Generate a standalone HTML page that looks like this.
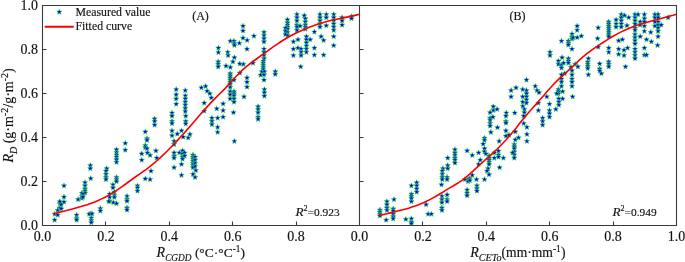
<!DOCTYPE html><html><head><meta charset="utf-8"><style>html,body{margin:0;padding:0;background:#fff;width:685px;height:262px;overflow:hidden}svg{display:block;will-change:transform}</style></head><body>
<svg width="685" height="262" viewBox="0 0 685 262">
<defs><path id="s" d="M0.00,-2.80 L0.73,-1.01 L2.66,-0.87 L1.19,0.39 L1.65,2.27 L0.00,1.25 L-1.65,2.27 L-1.19,0.39 L-2.66,-0.87 L-0.73,-1.01 Z" fill="#0000ff" stroke="#2ee62e" stroke-width="0.55" stroke-linejoin="miter"/></defs>
<use href="#s" x="243.0" y="26.0"/>
<use href="#s" x="243.0" y="30.8"/>
<use href="#s" x="243.0" y="38.0"/>
<use href="#s" x="247.2" y="40.3"/>
<use href="#s" x="253.9" y="36.1"/>
<use href="#s" x="230.4" y="41.1"/>
<use href="#s" x="234.0" y="41.1"/>
<use href="#s" x="234.4" y="43.4"/>
<use href="#s" x="234.4" y="45.3"/>
<use href="#s" x="239.4" y="43.2"/>
<use href="#s" x="247.0" y="49.1"/>
<use href="#s" x="218.4" y="48.0"/>
<use href="#s" x="218.4" y="52.4"/>
<use href="#s" x="227.7" y="52.2"/>
<use href="#s" x="228.1" y="55.4"/>
<use href="#s" x="234.4" y="57.5"/>
<use href="#s" x="264.0" y="32.3"/>
<use href="#s" x="264.0" y="35.4"/>
<use href="#s" x="264.0" y="38.6"/>
<use href="#s" x="264.0" y="41.7"/>
<use href="#s" x="264.0" y="49.1"/>
<use href="#s" x="264.0" y="52.2"/>
<use href="#s" x="264.0" y="55.4"/>
<use href="#s" x="264.0" y="58.5"/>
<use href="#s" x="287.5" y="19.7"/>
<use href="#s" x="287.5" y="22.8"/>
<use href="#s" x="287.5" y="24.9"/>
<use href="#s" x="287.5" y="27.0"/>
<use href="#s" x="287.5" y="29.1"/>
<use href="#s" x="287.5" y="32.3"/>
<use href="#s" x="287.5" y="35.4"/>
<use href="#s" x="285.4" y="28.1"/>
<use href="#s" x="285.4" y="31.2"/>
<use href="#s" x="285.4" y="34.4"/>
<use href="#s" x="296.9" y="14.4"/>
<use href="#s" x="296.9" y="17.6"/>
<use href="#s" x="296.9" y="20.7"/>
<use href="#s" x="296.9" y="24.9"/>
<use href="#s" x="296.9" y="27.0"/>
<use href="#s" x="296.9" y="30.2"/>
<use href="#s" x="300.1" y="26.0"/>
<use href="#s" x="304.3" y="15.5"/>
<use href="#s" x="305.3" y="18.6"/>
<use href="#s" x="305.3" y="21.8"/>
<use href="#s" x="305.3" y="24.9"/>
<use href="#s" x="305.3" y="27.0"/>
<use href="#s" x="305.3" y="29.1"/>
<use href="#s" x="306.4" y="36.5"/>
<use href="#s" x="306.4" y="39.6"/>
<use href="#s" x="306.4" y="42.8"/>
<use href="#s" x="306.4" y="45.9"/>
<use href="#s" x="306.4" y="49.1"/>
<use href="#s" x="306.4" y="52.2"/>
<use href="#s" x="310.2" y="39.6"/>
<use href="#s" x="293.4" y="41.7"/>
<use href="#s" x="293.4" y="49.1"/>
<use href="#s" x="293.4" y="55.4"/>
<use href="#s" x="298.0" y="39.6"/>
<use href="#s" x="298.0" y="48.0"/>
<use href="#s" x="301.1" y="49.1"/>
<use href="#s" x="301.1" y="52.2"/>
<use href="#s" x="301.1" y="55.4"/>
<use href="#s" x="314.4" y="31.9"/>
<use href="#s" x="314.4" y="48.0"/>
<use href="#s" x="314.4" y="55.0"/>
<use href="#s" x="320.0" y="14.4"/>
<use href="#s" x="320.0" y="17.6"/>
<use href="#s" x="320.0" y="20.7"/>
<use href="#s" x="320.0" y="23.9"/>
<use href="#s" x="320.0" y="27.0"/>
<use href="#s" x="321.1" y="36.5"/>
<use href="#s" x="323.6" y="40.3"/>
<use href="#s" x="323.6" y="55.0"/>
<use href="#s" x="326.3" y="14.4"/>
<use href="#s" x="326.3" y="17.6"/>
<use href="#s" x="326.3" y="25.6"/>
<use href="#s" x="333.7" y="14.4"/>
<use href="#s" x="333.7" y="17.6"/>
<use href="#s" x="333.7" y="20.7"/>
<use href="#s" x="333.7" y="23.9"/>
<use href="#s" x="333.7" y="27.0"/>
<use href="#s" x="333.7" y="30.2"/>
<use href="#s" x="333.7" y="36.5"/>
<use href="#s" x="333.7" y="45.5"/>
<use href="#s" x="342.1" y="17.6"/>
<use href="#s" x="342.1" y="20.7"/>
<use href="#s" x="342.1" y="24.9"/>
<use href="#s" x="351.5" y="16.5"/>
<use href="#s" x="351.5" y="18.6"/>
<use href="#s" x="218.2" y="61.7"/>
<use href="#s" x="218.2" y="64.2"/>
<use href="#s" x="218.2" y="66.7"/>
<use href="#s" x="226.0" y="65.9"/>
<use href="#s" x="230.4" y="67.3"/>
<use href="#s" x="232.9" y="61.7"/>
<use href="#s" x="239.8" y="63.8"/>
<use href="#s" x="243.4" y="64.2"/>
<use href="#s" x="252.9" y="63.1"/>
<use href="#s" x="230.2" y="73.6"/>
<use href="#s" x="230.2" y="75.7"/>
<use href="#s" x="230.2" y="77.8"/>
<use href="#s" x="230.2" y="79.9"/>
<use href="#s" x="230.2" y="82.0"/>
<use href="#s" x="230.2" y="84.1"/>
<use href="#s" x="230.2" y="87.3"/>
<use href="#s" x="230.2" y="91.5"/>
<use href="#s" x="230.2" y="94.6"/>
<use href="#s" x="230.2" y="98.8"/>
<use href="#s" x="234.0" y="79.9"/>
<use href="#s" x="234.0" y="91.5"/>
<use href="#s" x="234.0" y="93.6"/>
<use href="#s" x="234.0" y="95.7"/>
<use href="#s" x="234.0" y="98.8"/>
<use href="#s" x="234.0" y="102.0"/>
<use href="#s" x="239.8" y="73.0"/>
<use href="#s" x="247.0" y="77.8"/>
<use href="#s" x="247.0" y="82.0"/>
<use href="#s" x="247.0" y="86.9"/>
<use href="#s" x="244.0" y="96.7"/>
<use href="#s" x="176.2" y="89.4"/>
<use href="#s" x="176.2" y="94.6"/>
<use href="#s" x="176.2" y="98.8"/>
<use href="#s" x="176.2" y="104.1"/>
<use href="#s" x="185.3" y="90.4"/>
<use href="#s" x="185.3" y="95.7"/>
<use href="#s" x="185.3" y="98.8"/>
<use href="#s" x="185.3" y="102.0"/>
<use href="#s" x="185.3" y="105.1"/>
<use href="#s" x="185.3" y="108.3"/>
<use href="#s" x="185.3" y="111.4"/>
<use href="#s" x="201.4" y="87.7"/>
<use href="#s" x="205.6" y="86.2"/>
<use href="#s" x="207.1" y="91.1"/>
<use href="#s" x="209.8" y="93.6"/>
<use href="#s" x="211.3" y="97.8"/>
<use href="#s" x="204.2" y="103.0"/>
<use href="#s" x="204.2" y="111.0"/>
<use href="#s" x="172.0" y="112.9"/>
<use href="#s" x="216.8" y="108.7"/>
<use href="#s" x="223.1" y="103.7"/>
<use href="#s" x="223.1" y="110.4"/>
<use href="#s" x="233.5" y="112.5"/>
<use href="#s" x="263.3" y="61.0"/>
<use href="#s" x="263.3" y="63.1"/>
<use href="#s" x="263.3" y="65.2"/>
<use href="#s" x="263.3" y="67.3"/>
<use href="#s" x="263.3" y="69.4"/>
<use href="#s" x="261.9" y="71.5"/>
<use href="#s" x="264.4" y="71.5"/>
<use href="#s" x="260.6" y="75.1"/>
<use href="#s" x="264.0" y="74.7"/>
<use href="#s" x="264.0" y="79.9"/>
<use href="#s" x="264.4" y="89.4"/>
<use href="#s" x="264.4" y="92.5"/>
<use href="#s" x="264.4" y="96.1"/>
<use href="#s" x="258.1" y="106.6"/>
<use href="#s" x="258.1" y="109.3"/>
<use href="#s" x="258.1" y="112.5"/>
<use href="#s" x="275.3" y="71.5"/>
<use href="#s" x="275.3" y="74.3"/>
<use href="#s" x="300.7" y="66.7"/>
<use href="#s" x="145.3" y="131.8"/>
<use href="#s" x="147.0" y="138.5"/>
<use href="#s" x="147.0" y="140.2"/>
<use href="#s" x="145.3" y="145.4"/>
<use href="#s" x="145.3" y="147.5"/>
<use href="#s" x="147.0" y="148.6"/>
<use href="#s" x="147.4" y="152.8"/>
<use href="#s" x="150.1" y="155.3"/>
<use href="#s" x="141.7" y="153.8"/>
<use href="#s" x="141.7" y="160.1"/>
<use href="#s" x="125.3" y="143.3"/>
<use href="#s" x="125.3" y="150.1"/>
<use href="#s" x="116.5" y="149.6"/>
<use href="#s" x="116.5" y="152.4"/>
<use href="#s" x="116.5" y="154.9"/>
<use href="#s" x="116.5" y="157.0"/>
<use href="#s" x="116.5" y="159.5"/>
<use href="#s" x="116.5" y="162.2"/>
<use href="#s" x="90.3" y="165.4"/>
<use href="#s" x="90.3" y="168.5"/>
<use href="#s" x="106.7" y="168.5"/>
<use href="#s" x="154.6" y="118.8"/>
<use href="#s" x="154.6" y="121.3"/>
<use href="#s" x="154.6" y="125.1"/>
<use href="#s" x="172.0" y="116.0"/>
<use href="#s" x="172.0" y="121.3"/>
<use href="#s" x="172.0" y="123.4"/>
<use href="#s" x="185.7" y="116.0"/>
<use href="#s" x="185.7" y="121.3"/>
<use href="#s" x="185.7" y="123.8"/>
<use href="#s" x="172.0" y="130.7"/>
<use href="#s" x="172.0" y="135.6"/>
<use href="#s" x="177.3" y="133.9"/>
<use href="#s" x="181.5" y="130.7"/>
<use href="#s" x="183.2" y="137.0"/>
<use href="#s" x="188.2" y="137.7"/>
<use href="#s" x="189.9" y="134.3"/>
<use href="#s" x="174.1" y="141.2"/>
<use href="#s" x="174.1" y="144.4"/>
<use href="#s" x="155.9" y="150.7"/>
<use href="#s" x="156.7" y="158.0"/>
<use href="#s" x="174.1" y="152.8"/>
<use href="#s" x="174.1" y="155.9"/>
<use href="#s" x="174.1" y="158.0"/>
<use href="#s" x="179.4" y="152.8"/>
<use href="#s" x="182.5" y="150.7"/>
<use href="#s" x="182.5" y="153.8"/>
<use href="#s" x="182.5" y="157.0"/>
<use href="#s" x="182.5" y="159.1"/>
<use href="#s" x="184.6" y="152.8"/>
<use href="#s" x="184.6" y="155.9"/>
<use href="#s" x="181.5" y="164.3"/>
<use href="#s" x="193.0" y="154.9"/>
<use href="#s" x="193.0" y="157.0"/>
<use href="#s" x="193.0" y="159.1"/>
<use href="#s" x="193.0" y="161.2"/>
<use href="#s" x="193.0" y="163.3"/>
<use href="#s" x="193.0" y="165.4"/>
<use href="#s" x="193.0" y="167.5"/>
<use href="#s" x="195.1" y="157.0"/>
<use href="#s" x="195.1" y="160.1"/>
<use href="#s" x="195.1" y="163.3"/>
<use href="#s" x="195.1" y="166.4"/>
<use href="#s" x="174.1" y="167.5"/>
<use href="#s" x="211.9" y="118.1"/>
<use href="#s" x="211.9" y="121.3"/>
<use href="#s" x="211.9" y="124.4"/>
<use href="#s" x="217.6" y="118.1"/>
<use href="#s" x="223.1" y="117.1"/>
<use href="#s" x="217.6" y="127.2"/>
<use href="#s" x="217.6" y="132.2"/>
<use href="#s" x="234.4" y="141.2"/>
<use href="#s" x="258.1" y="117.1"/>
<use href="#s" x="258.1" y="119.2"/>
<use href="#s" x="54.6" y="214.1"/>
<use href="#s" x="54.6" y="220.0"/>
<use href="#s" x="57.7" y="210.3"/>
<use href="#s" x="57.7" y="215.1"/>
<use href="#s" x="59.8" y="207.8"/>
<use href="#s" x="59.8" y="203.6"/>
<use href="#s" x="59.8" y="201.5"/>
<use href="#s" x="61.3" y="204.6"/>
<use href="#s" x="61.3" y="208.8"/>
<use href="#s" x="64.0" y="185.7"/>
<use href="#s" x="64.0" y="196.9"/>
<use href="#s" x="64.0" y="201.9"/>
<use href="#s" x="76.6" y="215.1"/>
<use href="#s" x="76.6" y="218.3"/>
<use href="#s" x="76.6" y="220.0"/>
<use href="#s" x="78.1" y="199.4"/>
<use href="#s" x="81.9" y="193.1"/>
<use href="#s" x="81.9" y="196.2"/>
<use href="#s" x="81.9" y="198.3"/>
<use href="#s" x="85.0" y="182.6"/>
<use href="#s" x="85.0" y="185.7"/>
<use href="#s" x="85.0" y="188.9"/>
<use href="#s" x="85.0" y="191.0"/>
<use href="#s" x="85.0" y="193.1"/>
<use href="#s" x="82.9" y="194.1"/>
<use href="#s" x="82.9" y="196.9"/>
<use href="#s" x="90.7" y="178.4"/>
<use href="#s" x="90.7" y="213.7"/>
<use href="#s" x="89.2" y="214.1"/>
<use href="#s" x="92.0" y="213.7"/>
<use href="#s" x="91.3" y="217.9"/>
<use href="#s" x="91.3" y="220.4"/>
<use href="#s" x="91.3" y="222.5"/>
<use href="#s" x="100.4" y="208.4"/>
<use href="#s" x="100.4" y="210.9"/>
<use href="#s" x="106.0" y="171.0"/>
<use href="#s" x="106.0" y="174.2"/>
<use href="#s" x="106.0" y="177.3"/>
<use href="#s" x="106.0" y="179.4"/>
<use href="#s" x="113.0" y="184.7"/>
<use href="#s" x="113.0" y="187.8"/>
<use href="#s" x="116.5" y="177.3"/>
<use href="#s" x="116.5" y="179.4"/>
<use href="#s" x="116.5" y="181.5"/>
<use href="#s" x="109.6" y="194.1"/>
<use href="#s" x="109.6" y="197.3"/>
<use href="#s" x="109.6" y="201.1"/>
<use href="#s" x="114.4" y="192.0"/>
<use href="#s" x="114.4" y="195.2"/>
<use href="#s" x="114.4" y="197.3"/>
<use href="#s" x="113.4" y="202.5"/>
<use href="#s" x="116.5" y="203.6"/>
<use href="#s" x="108.8" y="201.5"/>
<use href="#s" x="127.0" y="196.2"/>
<use href="#s" x="127.0" y="199.4"/>
<use href="#s" x="127.0" y="201.1"/>
<use href="#s" x="127.0" y="207.8"/>
<use href="#s" x="127.0" y="209.9"/>
<use href="#s" x="137.5" y="185.7"/>
<use href="#s" x="137.5" y="187.8"/>
<use href="#s" x="137.5" y="191.0"/>
<use href="#s" x="145.3" y="178.8"/>
<use href="#s" x="150.1" y="179.4"/>
<use href="#s" x="151.0" y="171.0"/>
<use href="#s" x="181.5" y="175.2"/>
<use href="#s" x="193.0" y="174.2"/>
<use href="#s" x="195.1" y="177.3"/>
<use href="#s" x="195.8" y="170.4"/>
<use href="#s" x="572.0" y="34.0"/>
<use href="#s" x="572.0" y="36.9"/>
<use href="#s" x="572.0" y="39.0"/>
<use href="#s" x="573.1" y="37.5"/>
<use href="#s" x="568.4" y="41.1"/>
<use href="#s" x="568.4" y="43.2"/>
<use href="#s" x="568.4" y="44.9"/>
<use href="#s" x="561.5" y="41.1"/>
<use href="#s" x="572.0" y="49.1"/>
<use href="#s" x="550.0" y="52.2"/>
<use href="#s" x="550.0" y="55.4"/>
<use href="#s" x="562.1" y="57.5"/>
<use href="#s" x="568.4" y="58.5"/>
<use href="#s" x="577.2" y="26.0"/>
<use href="#s" x="577.2" y="30.2"/>
<use href="#s" x="577.2" y="37.5"/>
<use href="#s" x="581.4" y="36.1"/>
<use href="#s" x="598.2" y="27.7"/>
<use href="#s" x="597.6" y="38.6"/>
<use href="#s" x="598.2" y="47.0"/>
<use href="#s" x="588.4" y="58.5"/>
<use href="#s" x="608.7" y="21.8"/>
<use href="#s" x="608.7" y="23.9"/>
<use href="#s" x="608.7" y="26.0"/>
<use href="#s" x="608.7" y="28.1"/>
<use href="#s" x="608.7" y="30.2"/>
<use href="#s" x="608.7" y="32.3"/>
<use href="#s" x="608.7" y="34.4"/>
<use href="#s" x="608.7" y="36.5"/>
<use href="#s" x="608.7" y="48.0"/>
<use href="#s" x="608.7" y="52.2"/>
<use href="#s" x="616.1" y="19.7"/>
<use href="#s" x="616.1" y="23.9"/>
<use href="#s" x="616.1" y="27.0"/>
<use href="#s" x="621.3" y="14.4"/>
<use href="#s" x="621.3" y="17.6"/>
<use href="#s" x="621.3" y="20.7"/>
<use href="#s" x="621.3" y="23.9"/>
<use href="#s" x="621.3" y="27.0"/>
<use href="#s" x="624.5" y="15.5"/>
<use href="#s" x="628.7" y="17.6"/>
<use href="#s" x="627.0" y="25.6"/>
<use href="#s" x="618.6" y="40.7"/>
<use href="#s" x="622.4" y="39.6"/>
<use href="#s" x="618.6" y="49.1"/>
<use href="#s" x="618.6" y="54.3"/>
<use href="#s" x="624.1" y="50.1"/>
<use href="#s" x="624.1" y="55.4"/>
<use href="#s" x="627.6" y="48.0"/>
<use href="#s" x="635.0" y="14.4"/>
<use href="#s" x="635.0" y="17.6"/>
<use href="#s" x="635.0" y="20.7"/>
<use href="#s" x="635.0" y="23.9"/>
<use href="#s" x="635.0" y="28.1"/>
<use href="#s" x="635.0" y="30.2"/>
<use href="#s" x="635.0" y="34.4"/>
<use href="#s" x="635.0" y="37.5"/>
<use href="#s" x="635.0" y="40.7"/>
<use href="#s" x="635.0" y="43.8"/>
<use href="#s" x="635.0" y="49.1"/>
<use href="#s" x="635.0" y="52.2"/>
<use href="#s" x="635.0" y="55.4"/>
<use href="#s" x="638.1" y="14.4"/>
<use href="#s" x="640.2" y="21.8"/>
<use href="#s" x="640.2" y="24.9"/>
<use href="#s" x="640.2" y="36.5"/>
<use href="#s" x="644.4" y="14.4"/>
<use href="#s" x="644.4" y="18.6"/>
<use href="#s" x="644.4" y="21.8"/>
<use href="#s" x="644.4" y="26.0"/>
<use href="#s" x="644.4" y="31.2"/>
<use href="#s" x="646.5" y="39.6"/>
<use href="#s" x="644.4" y="48.0"/>
<use href="#s" x="644.4" y="55.0"/>
<use href="#s" x="646.5" y="55.0"/>
<use href="#s" x="650.7" y="32.3"/>
<use href="#s" x="651.4" y="41.7"/>
<use href="#s" x="654.9" y="14.4"/>
<use href="#s" x="654.9" y="17.6"/>
<use href="#s" x="654.9" y="21.8"/>
<use href="#s" x="654.9" y="26.0"/>
<use href="#s" x="658.1" y="14.4"/>
<use href="#s" x="658.1" y="17.6"/>
<use href="#s" x="658.1" y="21.8"/>
<use href="#s" x="658.1" y="24.9"/>
<use href="#s" x="658.1" y="28.1"/>
<use href="#s" x="661.2" y="24.9"/>
<use href="#s" x="658.1" y="31.2"/>
<use href="#s" x="658.1" y="36.5"/>
<use href="#s" x="657.6" y="45.3"/>
<use href="#s" x="668.1" y="17.6"/>
<use href="#s" x="635.0" y="58.5"/>
<use href="#s" x="558.4" y="61.0"/>
<use href="#s" x="558.4" y="64.2"/>
<use href="#s" x="561.5" y="65.2"/>
<use href="#s" x="561.5" y="68.0"/>
<use href="#s" x="563.6" y="63.1"/>
<use href="#s" x="568.4" y="61.0"/>
<use href="#s" x="568.4" y="63.1"/>
<use href="#s" x="571.0" y="67.3"/>
<use href="#s" x="575.2" y="64.2"/>
<use href="#s" x="561.5" y="74.7"/>
<use href="#s" x="561.5" y="78.9"/>
<use href="#s" x="561.5" y="82.0"/>
<use href="#s" x="561.5" y="86.2"/>
<use href="#s" x="564.7" y="73.6"/>
<use href="#s" x="572.0" y="70.5"/>
<use href="#s" x="572.0" y="74.7"/>
<use href="#s" x="572.0" y="78.9"/>
<use href="#s" x="572.0" y="82.0"/>
<use href="#s" x="572.0" y="86.2"/>
<use href="#s" x="572.6" y="96.7"/>
<use href="#s" x="558.4" y="89.4"/>
<use href="#s" x="558.4" y="91.5"/>
<use href="#s" x="558.4" y="93.6"/>
<use href="#s" x="562.6" y="91.5"/>
<use href="#s" x="562.6" y="98.8"/>
<use href="#s" x="556.7" y="93.6"/>
<use href="#s" x="558.8" y="98.8"/>
<use href="#s" x="558.8" y="102.0"/>
<use href="#s" x="558.8" y="105.1"/>
<use href="#s" x="555.8" y="109.3"/>
<use href="#s" x="546.8" y="96.7"/>
<use href="#s" x="549.5" y="104.1"/>
<use href="#s" x="549.5" y="110.4"/>
<use href="#s" x="549.5" y="113.5"/>
<use href="#s" x="538.4" y="103.0"/>
<use href="#s" x="538.4" y="110.4"/>
<use href="#s" x="535.3" y="86.2"/>
<use href="#s" x="537.0" y="90.4"/>
<use href="#s" x="539.1" y="92.5"/>
<use href="#s" x="526.5" y="79.9"/>
<use href="#s" x="522.7" y="89.4"/>
<use href="#s" x="522.7" y="96.7"/>
<use href="#s" x="522.7" y="102.0"/>
<use href="#s" x="522.7" y="106.2"/>
<use href="#s" x="526.5" y="90.4"/>
<use href="#s" x="526.5" y="93.6"/>
<use href="#s" x="526.5" y="96.7"/>
<use href="#s" x="526.5" y="99.9"/>
<use href="#s" x="526.5" y="103.0"/>
<use href="#s" x="524.4" y="109.3"/>
<use href="#s" x="524.4" y="112.5"/>
<use href="#s" x="511.1" y="90.4"/>
<use href="#s" x="511.1" y="96.7"/>
<use href="#s" x="516.0" y="87.7"/>
<use href="#s" x="493.3" y="106.6"/>
<use href="#s" x="493.3" y="110.4"/>
<use href="#s" x="497.1" y="109.3"/>
<use href="#s" x="490.1" y="112.5"/>
<use href="#s" x="506.3" y="112.9"/>
<use href="#s" x="514.7" y="112.9"/>
<use href="#s" x="577.9" y="66.7"/>
<use href="#s" x="587.7" y="62.1"/>
<use href="#s" x="587.7" y="64.2"/>
<use href="#s" x="587.7" y="66.3"/>
<use href="#s" x="587.7" y="68.4"/>
<use href="#s" x="588.4" y="74.7"/>
<use href="#s" x="599.7" y="63.8"/>
<use href="#s" x="599.7" y="68.8"/>
<use href="#s" x="599.7" y="70.9"/>
<use href="#s" x="601.4" y="73.6"/>
<use href="#s" x="608.7" y="61.7"/>
<use href="#s" x="608.7" y="64.2"/>
<use href="#s" x="608.7" y="66.7"/>
<use href="#s" x="625.5" y="66.7"/>
<use href="#s" x="454.9" y="149.6"/>
<use href="#s" x="454.9" y="152.8"/>
<use href="#s" x="454.9" y="155.3"/>
<use href="#s" x="454.9" y="158.0"/>
<use href="#s" x="454.9" y="160.1"/>
<use href="#s" x="454.9" y="162.9"/>
<use href="#s" x="467.1" y="150.7"/>
<use href="#s" x="447.7" y="158.0"/>
<use href="#s" x="447.7" y="165.4"/>
<use href="#s" x="447.7" y="168.5"/>
<use href="#s" x="442.9" y="168.5"/>
<use href="#s" x="490.1" y="118.1"/>
<use href="#s" x="490.1" y="120.2"/>
<use href="#s" x="490.1" y="123.4"/>
<use href="#s" x="490.1" y="125.9"/>
<use href="#s" x="492.9" y="117.1"/>
<use href="#s" x="490.8" y="132.2"/>
<use href="#s" x="497.5" y="127.6"/>
<use href="#s" x="505.9" y="116.0"/>
<use href="#s" x="505.9" y="121.3"/>
<use href="#s" x="505.9" y="123.0"/>
<use href="#s" x="505.9" y="130.7"/>
<use href="#s" x="505.9" y="136.0"/>
<use href="#s" x="509.0" y="134.9"/>
<use href="#s" x="515.3" y="131.8"/>
<use href="#s" x="515.3" y="139.8"/>
<use href="#s" x="518.5" y="137.7"/>
<use href="#s" x="523.7" y="116.0"/>
<use href="#s" x="523.7" y="123.4"/>
<use href="#s" x="526.9" y="127.2"/>
<use href="#s" x="526.9" y="134.3"/>
<use href="#s" x="526.9" y="141.2"/>
<use href="#s" x="542.6" y="118.1"/>
<use href="#s" x="542.6" y="121.3"/>
<use href="#s" x="542.6" y="125.1"/>
<use href="#s" x="549.5" y="117.1"/>
<use href="#s" x="484.5" y="138.1"/>
<use href="#s" x="484.5" y="140.2"/>
<use href="#s" x="483.2" y="144.0"/>
<use href="#s" x="484.5" y="148.6"/>
<use href="#s" x="484.5" y="151.7"/>
<use href="#s" x="472.3" y="155.3"/>
<use href="#s" x="478.6" y="152.8"/>
<use href="#s" x="480.3" y="160.1"/>
<use href="#s" x="478.6" y="164.3"/>
<use href="#s" x="485.9" y="153.8"/>
<use href="#s" x="489.1" y="155.9"/>
<use href="#s" x="489.1" y="158.0"/>
<use href="#s" x="489.1" y="160.1"/>
<use href="#s" x="489.1" y="162.2"/>
<use href="#s" x="489.1" y="164.3"/>
<use href="#s" x="488.0" y="168.5"/>
<use href="#s" x="494.3" y="152.8"/>
<use href="#s" x="494.3" y="158.0"/>
<use href="#s" x="499.2" y="141.2"/>
<use href="#s" x="498.5" y="151.1"/>
<use href="#s" x="498.5" y="154.9"/>
<use href="#s" x="498.5" y="157.0"/>
<use href="#s" x="503.4" y="158.0"/>
<use href="#s" x="499.6" y="167.5"/>
<use href="#s" x="514.3" y="144.4"/>
<use href="#s" x="514.3" y="146.5"/>
<use href="#s" x="514.3" y="148.6"/>
<use href="#s" x="514.3" y="151.7"/>
<use href="#s" x="514.3" y="154.9"/>
<use href="#s" x="514.3" y="158.0"/>
<use href="#s" x="512.6" y="152.8"/>
<use href="#s" x="379.9" y="209.9"/>
<use href="#s" x="379.9" y="212.0"/>
<use href="#s" x="379.9" y="214.1"/>
<use href="#s" x="379.9" y="215.8"/>
<use href="#s" x="386.9" y="201.5"/>
<use href="#s" x="386.9" y="204.6"/>
<use href="#s" x="386.9" y="207.8"/>
<use href="#s" x="386.9" y="210.3"/>
<use href="#s" x="386.2" y="220.0"/>
<use href="#s" x="393.2" y="208.8"/>
<use href="#s" x="393.2" y="210.9"/>
<use href="#s" x="393.2" y="214.1"/>
<use href="#s" x="393.2" y="216.6"/>
<use href="#s" x="393.2" y="218.7"/>
<use href="#s" x="394.0" y="199.4"/>
<use href="#s" x="411.4" y="185.7"/>
<use href="#s" x="411.4" y="194.1"/>
<use href="#s" x="411.4" y="196.2"/>
<use href="#s" x="411.4" y="198.3"/>
<use href="#s" x="411.4" y="201.5"/>
<use href="#s" x="416.7" y="182.6"/>
<use href="#s" x="416.7" y="185.7"/>
<use href="#s" x="416.7" y="188.9"/>
<use href="#s" x="416.7" y="192.0"/>
<use href="#s" x="405.8" y="219.3"/>
<use href="#s" x="411.4" y="218.7"/>
<use href="#s" x="411.4" y="222.1"/>
<use href="#s" x="411.4" y="223.5"/>
<use href="#s" x="426.1" y="204.6"/>
<use href="#s" x="428.2" y="214.1"/>
<use href="#s" x="431.4" y="214.1"/>
<use href="#s" x="442.3" y="171.0"/>
<use href="#s" x="442.3" y="174.2"/>
<use href="#s" x="442.3" y="177.3"/>
<use href="#s" x="442.3" y="179.4"/>
<use href="#s" x="447.1" y="177.3"/>
<use href="#s" x="447.1" y="179.4"/>
<use href="#s" x="441.5" y="184.7"/>
<use href="#s" x="441.9" y="196.2"/>
<use href="#s" x="441.9" y="199.4"/>
<use href="#s" x="441.9" y="202.5"/>
<use href="#s" x="441.9" y="207.8"/>
<use href="#s" x="441.9" y="210.3"/>
<use href="#s" x="447.1" y="194.8"/>
<use href="#s" x="447.1" y="199.4"/>
<use href="#s" x="447.1" y="201.5"/>
<use href="#s" x="465.0" y="179.4"/>
<use href="#s" x="468.1" y="179.4"/>
<use href="#s" x="468.1" y="181.5"/>
<use href="#s" x="467.1" y="189.9"/>
<use href="#s" x="467.1" y="193.1"/>
<use href="#s" x="467.1" y="195.6"/>
<use href="#s" x="469.8" y="178.4"/>
<use href="#s" x="469.8" y="180.5"/>
<use href="#s" x="472.3" y="175.2"/>
<use href="#s" x="476.5" y="179.4"/>
<use href="#s" x="476.9" y="185.7"/>
<use href="#s" x="476.9" y="188.5"/>
<use href="#s" x="476.9" y="191.0"/>
<use href="#s" x="484.5" y="179.4"/>
<use href="#s" x="487.0" y="171.0"/>
<use href="#s" x="489.1" y="174.6"/>
<path d="M53.5,214.1 L56.9,213.1 L60.4,212.1 L63.8,211.2 L67.3,210.3 L70.7,209.4 L74.1,208.5 L77.6,207.5 L81.0,206.5 L84.4,205.5 L87.9,204.4 L91.3,203.2 L94.8,201.9 L98.2,200.5 L101.6,198.9 L105.1,197.2 L108.5,195.4 L111.9,193.3 L115.4,191.2 L118.8,188.8 L122.3,186.4 L125.7,184.0 L129.1,181.5 L132.6,179.0 L136.0,176.5 L139.5,174.1 L142.9,171.7 L146.3,169.3 L149.8,166.7 L153.2,163.9 L156.6,161.0 L160.1,157.9 L163.5,154.7 L167.0,151.3 L170.4,147.8 L173.8,144.3 L177.3,140.6 L180.7,136.8 L184.2,133.0 L187.6,129.1 L191.0,125.2 L194.5,121.2 L197.9,117.3 L201.3,113.3 L204.8,109.4 L208.2,105.6 L211.7,101.9 L215.1,98.4 L218.5,95.0 L222.0,91.6 L225.4,88.1 L228.8,84.3 L232.3,80.5 L235.7,76.7 L239.2,73.2 L242.6,69.9 L246.0,66.9 L249.5,64.1 L252.9,61.5 L256.4,59.0 L259.8,56.5 L263.2,54.1 L266.7,51.6 L270.1,49.1 L273.5,46.7 L277.0,44.3 L280.4,42.0 L283.9,39.8 L287.3,37.8 L290.7,35.8 L294.2,34.0 L297.6,32.3 L301.1,30.7 L304.5,29.2 L307.9,27.8 L311.4,26.4 L314.8,25.2 L318.2,24.1 L321.7,23.0 L325.1,22.0 L328.6,21.1 L332.0,20.3 L335.4,19.5 L338.9,18.8 L342.3,18.1 L345.7,17.4 L349.2,16.6 L352.6,15.9 L356.1,15.1 L359.5,14.3" fill="none" stroke="#fa0000" stroke-width="1.6"/>
<path d="M379.2,215.7 L382.5,214.8 L385.9,213.9 L389.2,213.1 L392.6,212.3 L395.9,211.5 L399.2,210.6 L402.6,209.8 L405.9,208.9 L409.3,207.9 L412.6,206.8 L415.9,205.7 L419.3,204.4 L422.6,203.1 L426.0,201.5 L429.3,199.9 L432.6,198.1 L436.0,196.2 L439.3,194.2 L442.7,192.2 L446.0,190.1 L449.3,188.1 L452.7,186.2 L456.0,184.2 L459.4,182.1 L462.7,179.8 L466.1,177.2 L469.4,174.4 L472.7,171.3 L476.1,168.2 L479.4,165.1 L482.8,162.1 L486.1,159.1 L489.4,156.2 L492.8,153.1 L496.1,150.0 L499.5,146.7 L502.8,143.2 L506.1,139.7 L509.5,135.9 L512.8,132.0 L516.2,127.9 L519.5,123.6 L522.8,119.4 L526.2,115.4 L529.5,111.5 L532.9,107.8 L536.2,104.1 L539.5,100.3 L542.9,96.5 L546.2,92.5 L549.6,88.7 L552.9,85.0 L556.2,81.6 L559.6,78.4 L562.9,75.4 L566.3,72.4 L569.6,69.4 L572.9,66.2 L576.3,63.0 L579.6,59.9 L583.0,56.9 L586.3,54.2 L589.6,51.6 L593.0,49.2 L596.3,46.9 L599.7,44.6 L603.0,42.5 L606.4,40.3 L609.7,38.2 L613.0,36.3 L616.4,34.4 L619.7,32.6 L623.1,30.9 L626.4,29.4 L629.7,28.0 L633.1,26.7 L636.4,25.5 L639.8,24.4 L643.1,23.3 L646.4,22.4 L649.8,21.4 L653.1,20.5 L656.5,19.7 L659.8,18.8 L663.1,17.9 L666.5,17.0 L669.8,16.1 L673.2,15.2 L676.5,14.2" fill="none" stroke="#fa0000" stroke-width="1.6"/>
<path d="M42.5,5.5 H676.5 V225.5 H42.5 Z M359.5,5.5 V225.5" fill="none" stroke="#3a3a3a" stroke-width="1.1"/>
<path d="M42.5,181.5 h4 M359.5,181.5 h4 M42.5,137.5 h4 M359.5,137.5 h4 M42.5,93.5 h4 M359.5,93.5 h4 M42.5,49.5 h4 M359.5,49.5 h4 M105.5,225.5 v-4 M422.5,225.5 v-4 M169.5,225.5 v-4 M486.5,225.5 v-4 M232.5,225.5 v-4 M549.5,225.5 v-4 M296.5,225.5 v-4 M613.5,225.5 v-4" fill="none" stroke="#3a3a3a" stroke-width="1.1"/>
<text x="38" y="230.0" font-family="Liberation Serif" stroke="#111" stroke-width="0.15" font-size="14" text-anchor="end" fill="#111">0.0</text>
<text x="38" y="186.0" font-family="Liberation Serif" stroke="#111" stroke-width="0.15" font-size="14" text-anchor="end" fill="#111">0.2</text>
<text x="38" y="142.0" font-family="Liberation Serif" stroke="#111" stroke-width="0.15" font-size="14" text-anchor="end" fill="#111">0.4</text>
<text x="38" y="98.0" font-family="Liberation Serif" stroke="#111" stroke-width="0.15" font-size="14" text-anchor="end" fill="#111">0.6</text>
<text x="38" y="54.0" font-family="Liberation Serif" stroke="#111" stroke-width="0.15" font-size="14" text-anchor="end" fill="#111">0.8</text>
<text x="38" y="10.0" font-family="Liberation Serif" stroke="#111" stroke-width="0.15" font-size="14" text-anchor="end" fill="#111">1.0</text>
<text x="42.5" y="240.5" font-family="Liberation Serif" stroke="#111" stroke-width="0.15" font-size="14" text-anchor="middle" fill="#111">0.0</text>
<text x="105.9" y="240.5" font-family="Liberation Serif" stroke="#111" stroke-width="0.15" font-size="14" text-anchor="middle" fill="#111">0.2</text>
<text x="169.3" y="240.5" font-family="Liberation Serif" stroke="#111" stroke-width="0.15" font-size="14" text-anchor="middle" fill="#111">0.4</text>
<text x="232.7" y="240.5" font-family="Liberation Serif" stroke="#111" stroke-width="0.15" font-size="14" text-anchor="middle" fill="#111">0.6</text>
<text x="296.1" y="240.5" font-family="Liberation Serif" stroke="#111" stroke-width="0.15" font-size="14" text-anchor="middle" fill="#111">0.8</text>
<text x="359.5" y="240.5" font-family="Liberation Serif" stroke="#111" stroke-width="0.15" font-size="14" text-anchor="middle" fill="#111">0.0</text>
<text x="422.9" y="240.5" font-family="Liberation Serif" stroke="#111" stroke-width="0.15" font-size="14" text-anchor="middle" fill="#111">0.2</text>
<text x="486.3" y="240.5" font-family="Liberation Serif" stroke="#111" stroke-width="0.15" font-size="14" text-anchor="middle" fill="#111">0.4</text>
<text x="549.7" y="240.5" font-family="Liberation Serif" stroke="#111" stroke-width="0.15" font-size="14" text-anchor="middle" fill="#111">0.6</text>
<text x="613.1" y="240.5" font-family="Liberation Serif" stroke="#111" stroke-width="0.15" font-size="14" text-anchor="middle" fill="#111">0.8</text>
<text x="676.5" y="240.5" font-family="Liberation Serif" stroke="#111" stroke-width="0.15" font-size="14" text-anchor="middle" fill="#111">1.0</text>
<text x="200.5" y="20" font-family="Liberation Serif" stroke="#111" stroke-width="0.15" font-size="12" text-anchor="middle" fill="#111">(A)</text>
<text x="517.5" y="20" font-family="Liberation Serif" stroke="#111" stroke-width="0.15" font-size="12" text-anchor="middle" fill="#111">(B)</text>
<text x="295.4" y="216" font-family="Liberation Serif" stroke="#111" stroke-width="0.15" font-size="12" fill="#111"><tspan font-style="italic" font-size="13.2">R</tspan><tspan font-size="8.2" dy="-5.5">2</tspan><tspan dy="5.5" font-size="11.4">=0.923</tspan></text>
<text x="612.4" y="216" font-family="Liberation Serif" stroke="#111" stroke-width="0.15" font-size="12" fill="#111"><tspan font-style="italic" font-size="13.2">R</tspan><tspan font-size="8.2" dy="-5.5">2</tspan><tspan dy="5.5" font-size="11.4">=0.949</tspan></text>
<use href="#s" x="59.3" y="12"/>
<path d="M45.5,26.8 H73" stroke="#fa0000" stroke-width="1.9" stroke-linecap="round"/>
<text x="75.5" y="15.8" font-family="Liberation Serif" stroke="#111" stroke-width="0.15" font-size="11.8" fill="#111">Measured value</text>
<text x="75.5" y="29.9" font-family="Liberation Serif" stroke="#111" stroke-width="0.15" font-size="11.8" fill="#111">Fitted curve</text>
<text x="156.6" y="257.4" font-family="Liberation Serif" stroke="#111" stroke-width="0.15" font-size="14" fill="#111"><tspan font-style="italic">R</tspan><tspan font-style="italic" font-size="9.3" dy="3.8">CGDD</tspan><tspan font-size="13.5" dy="-3.8"> (°C·°C</tspan><tspan font-size="9.3" dy="-5">-1</tspan><tspan font-size="13.5" dy="5">)</tspan></text>
<text x="470.2" y="257.4" font-family="Liberation Serif" stroke="#111" stroke-width="0.15" font-size="14" fill="#111"><tspan font-style="italic">R</tspan><tspan font-style="italic" font-size="10.2" dy="4">CETo</tspan><tspan font-size="13.6" dy="-4">(mm·mm</tspan><tspan font-size="9.5" dy="-5">-1</tspan><tspan font-size="13.6" dy="5">)</tspan></text>
<text transform="translate(13.4,162.6) rotate(-90)" font-family="Liberation Serif" stroke="#111" stroke-width="0.15" font-size="14" fill="#111"><tspan font-style="italic">R</tspan><tspan font-style="italic" font-size="10" dy="3.8">D</tspan><tspan dy="-3.8"> (g·m</tspan><tspan font-size="10" dy="-5">-2</tspan><tspan dy="5">/g·m</tspan><tspan font-size="10" dy="-5">-2</tspan><tspan dy="5">)</tspan></text>
</svg></body></html>
